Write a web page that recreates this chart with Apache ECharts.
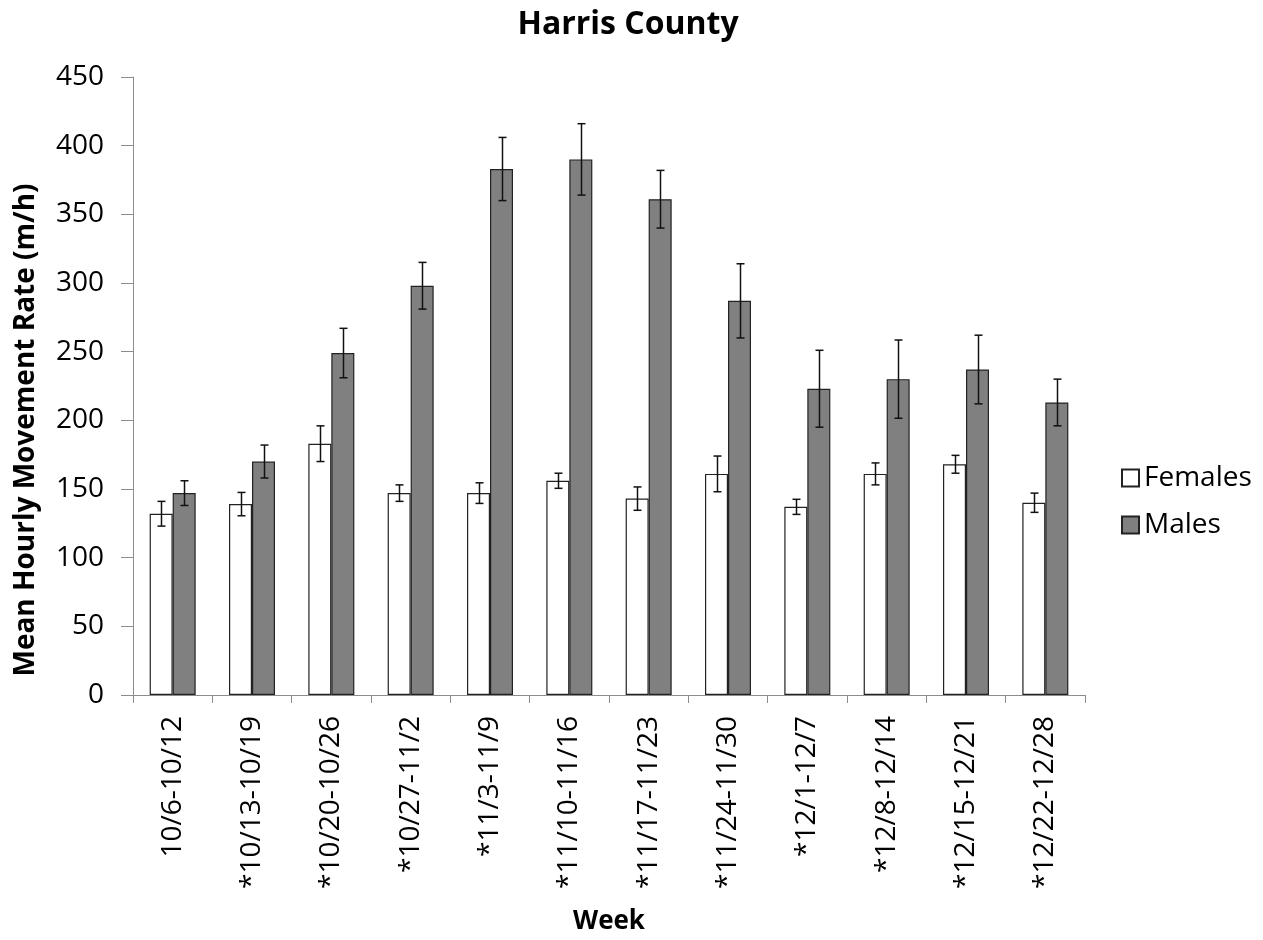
<!DOCTYPE html>
<html>
<head>
<meta charset="utf-8">
<title>Harris County</title>
<script src="https://cdn.jsdelivr.net/npm/echarts@6/dist/echarts.min.js"></script>
<style>
html,body{margin:0;padding:0;background:#fff;}
#chart{width:1263px;height:940px;}
</style>
</head>
<body>
<div id="chart"></div>
<script>
//数据 从图上读出来的
var weeks = ['10/6-10/12','*10/13-10/19','*10/20-10/26','*10/27-11/2','*11/3-11/9','*11/10-11/16',
	'*11/17-11/23','*11/24-11/30','*12/1-12/7','*12/8-12/14','*12/15-12/21','*12/22-12/28'];
var females = [132, 139, 183, 147, 147, 156, 143, 161, 137, 161, 168, 140];
var femalesErr = [9, 8.5, 13, 6, 7.5, 5.5, 8.5, 13, 5.5, 8, 6.5, 7];
var males = [147, 170, 249, 298, 383, 390, 361, 287, 223, 230, 237, 213];
var malesErr = [9, 12, 18, 17, 23, 26, 21, 27, 28, 28.5, 25, 17];
var yTicks = [0, 50, 100, 150, 200, 250, 300, 350, 400, 450];

var barW = 23;
var fontName = '"Open Sans", "Liberation Sans", sans-serif';

function errData(vals, errs)
{
	var out = [];
	for (var i = 0; i < vals.length; i++) {
		out.push([i, vals[i], errs[i]]);
	}
	return out;
}

//误差线 offset是柱子中心相对类目中心的偏移
function errRender(offset)
{
	return function (params, api) {
		var i = api.value(0);
		var v = api.value(1);
		var e = api.value(2);
		var hi = api.coord([i, v + e]);
		var lo = api.coord([i, v - e]);
		var x = Math.round(hi[0] + offset) + 0.5;
		var cap = 4;
		var st = { stroke: '#111', lineWidth: 1.5 };
		return {
			type: 'group',
			children: [
				{ type: 'line', shape: { x1: x, y1: hi[1], x2: x, y2: lo[1] }, style: st },
				{ type: 'line', shape: { x1: x - cap, y1: hi[1], x2: x + cap, y2: hi[1] }, style: st },
				{ type: 'line', shape: { x1: x - cap, y1: lo[1], x2: x + cap, y2: lo[1] }, style: st }
			]
		};
	};
}

var myChart = echarts.init(document.getElementById('chart'));
var option = {
	animation: false,
	backgroundColor: '#fff',
	textStyle: { fontFamily: fontName },
	grid: { left: 133, right: 178, top: 77, bottom: 245 },
	legend: {
		data: ['Females', 'Males'],
		orient: 'vertical',
		left: 1116,
		top: 459,
		itemWidth: 17,
		itemHeight: 17,
		itemGap: 19,
		icon: 'rect',
		textStyle: { fontSize: 28, color: '#000', fontFamily: fontName }
	},
	graphic: [
		{
			type: 'text', x: 628, y: 25,
			style: { text: 'Harris County', font: 'bold 32px ' + fontName, fill: '#000',
				textAlign: 'center', textVerticalAlign: 'middle' }
		},
		{
			type: 'text', x: 609, y: 922,
			style: { text: 'Week', font: 'bold 26px ' + fontName, fill: '#000',
				textAlign: 'center', textVerticalAlign: 'middle' }
		},
		{
			type: 'text', x: 26, y: 430, rotation: Math.PI / 2,
			style: { text: 'Mean Hourly Movement Rate (m/h)', font: 'bold 28px ' + fontName, fill: '#000',
				textAlign: 'center', textVerticalAlign: 'middle' }
		}
	],
	xAxis: {
		type: 'category',
		data: weeks,
		boundaryGap: true,
		axisLine: { lineStyle: { color: '#8c8c8c', width: 1 } },
		axisTick: { show: true, length: 8, alignWithLabel: false, lineStyle: { color: '#8c8c8c' } },
		axisLabel: { rotate: 90, margin: 21, fontSize: 28, color: '#000', interval: 0 }
	},
	yAxis: {
		type: 'value',
		min: 0,
		max: 450,
		interval: 50,
		splitLine: { show: false },
		axisLine: { show: true, lineStyle: { color: '#8c8c8c', width: 1 } },
		axisTick: { show: true, length: 12, lineStyle: { color: '#8c8c8c' } },
		axisLabel: { margin: 29, fontSize: 28, color: '#000',
			formatter: function (v) { return yTicks.indexOf(v) >= 0 ? String(v) : ''; } }
	},
	series: [
		{
			name: 'Females',
			type: 'bar',
			data: females,
			barWidth: barW,
			barGap: '0%',
			itemStyle: { color: '#fff', borderColor: '#222', borderWidth: 1.2 }
		},
		{
			name: 'Males',
			type: 'bar',
			data: males,
			barWidth: barW,
			barGap: '0%',
			itemStyle: { color: '#808080', borderColor: '#222', borderWidth: 1.2 }
		},
		{
			type: 'custom',
			renderItem: errRender(-barW / 2),
			data: errData(females, femalesErr),
			z: 5,
			silent: true
		},
		{
			type: 'custom',
			renderItem: errRender(barW / 2),
			data: errData(males, malesErr),
			z: 5,
			silent: true
		}
	]
};
myChart.setOption(option);
</script>
</body>
</html>
